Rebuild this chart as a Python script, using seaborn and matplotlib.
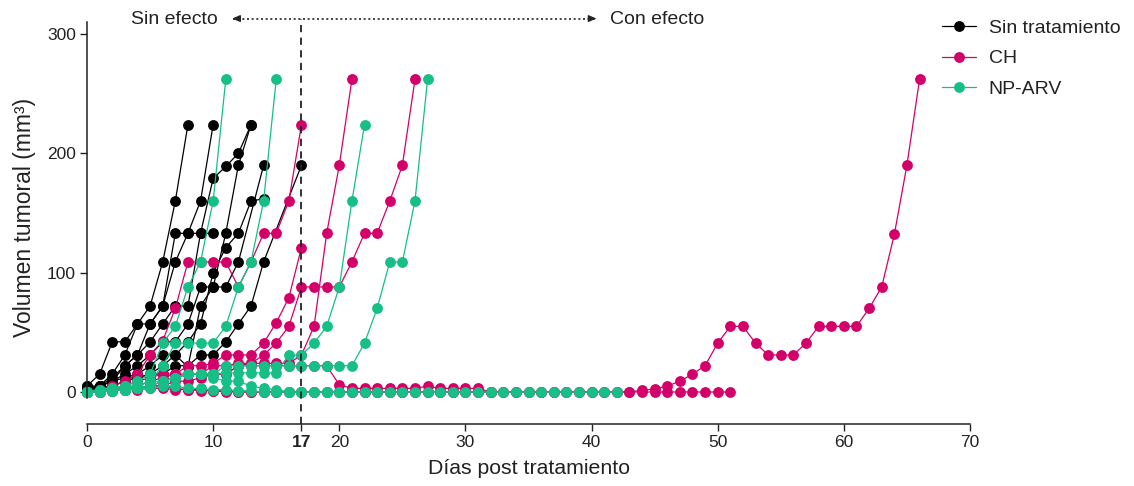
import matplotlib
matplotlib.use("Agg")
import matplotlib.pyplot as plt
from matplotlib.lines import Line2D
import seaborn as sns
import pandas as pd

# ---------------- data (values per mouse, one per day from day 0; None = not measured)
groups = ["Sin tratamiento", "CH", "NP-ARV"]
colors = ["#000000", "#D4006A", "#16BF85"]

# Sin tratamiento
b1 = [5, 15, 42, 42, 57, 72, 109, 160, 224]
b2 = [5, 5, 15, 31, 57, 57, 72, 133, 133, 160, 224]
b3 = [3, 5, 9, 22, 31, 42, 57, 72, 72, 133, 179, 189, 200, 224]
b4 = [3, 5, 9, 15, 22, 31, 42, 42, 57, 88, 88, 133, 190, 224]
b5 = [2, 5, 9, 12, 15, 22, 31, 31, 21, 72, 88, 88, 109, None, 190]
b6 = [2, 3, 5, 9, 12, 15, 22, 31, 42, 57, 100, 121, 133, 160, 162]
b7 = [2, 3, 5, 9, 12, 15, 15, 22, 22, 31, 31, 42, 57, 72, 109, None, None, 190]
b8 = [3, 5, 12, 22, 31, 57, 72, 109, 133, 133, 133]

# CH
p1 = [0, 2, 5, 9, 15, 31, 43, 70, 109, 109, 109, 109, 88, 109, 133, 133, 160, 224]
p2 = [0, 1, 3, 5, 9, 12, 15, 15, 22, 22, 24, 31, 31, 31, 41, 58, 79, 121]
p3 = [0, 0, 2, 3, 5, 9, 12, 15, 15, 15, 22, 22, 24, 24, 31, 41, 55, 88, 88, 88, 88,
      109, 133, 133, 160, 190, 262]
p4 = [0, 0, 1, 2, 3, 5, 9, 12, 15, 15, 15, 15, 22, 24, 24, 24, 24, 31, 55, 133, 190, 262]
p5 = [0, 0, 1, 2, 3, 5, 5, 9, 9, 12, 15, 15, 22, 22, 22, 22, 22, 22, 22, 22, 6,
      3, 3, 3, 3, 3, 3, 5, 3, 3, 3, 3, 0]
p6 = [0, 1, 2, 3, 3, 5, 5, 3, 2, 2, 1, 1, 0, 0, 0, 0, 0, 0, 0, 0, 0, 0, 0, 0, 0, 0,
      0, 0, 0, 0, 0, 0, 0, 0, 0, 0, 0, 0, 0, 0, 0, 0, 0, 0, 0, 0, 0, 0, 0, 0, 0, 0]
p7 = [0, 0, 1, 2, 2, 3, 3, 2, 2, 1, 1, 0, 0, 0, 0, 0, 0, 0, 0, 0, 0, 0, 0, 0, 0, 0,
      0, 0, 0, 0, 0, 0, 0, 0, 0, 0, 0, 0, 0, 0, 0, 0, 0, 0, 1.5, 2.5, 5, 9, 15, 22,
      41, 55, 55, 41, 31, 31, 31, 41, 55, 55, 55, 55, 70, 88, 132, 190, 262]

# NP-ARV
g1 = [0, 2, 3, 5, 9, 15, 41, 55, 88, 109, 160, 262]
g2 = [0, 1, 2, 3, 5, 9, 22, 41, 41, 41, 41, 55, 88, 109, 160, 262]
g3 = [0, 0, 1, 2, 3, 5, 9, 12, 15, 15, 15, 16, 16, 16, 16, 16, 31, 31, 41, 55, 88, 160, 224]
g4 = [0, 0, 1, 2, 3, 5, 9, 12, 15, 15, 15, 22, 22, 22, 22, 22, 22, 22, 22, 22, 22, 22,
      41, 70, 109, 109, 160, 262]
g5 = [0, 1, 2, 2, 3, 3, 5, 5, 3, 3, 2, 2, 1, 1, 0, 0, 0, 0, 0, 0, 0, 0, 0, 0, 0, 0,
      0, 0, 0, 0, 0, 0, 0, 0, 0, 0, 0, 0, 0, 0, 0, 0, 0]
g6 = [0, 2, 3, 5, 5, 9, 9, 12, 15, 15, 12, 9, 9, 5, 3, 2, 0, 0, 0, 0, 0]

black_mice = [b1, b2, b3, b4, b5, b6, b7, b8]
pink_mice = [p1, p2, p3, p4, p5, p6, p7]
green_mice = [g1, g2, g3, g4, g5, g6]

x_ticks = [0, 10, 17, 20, 30, 40, 50, 60, 70]
y_ticks = [0, 100, 200, 300]

# ---------------- long-form table
rows = []
for grp, mice in zip(groups, [black_mice, pink_mice, green_mice]):
    for k, vals in enumerate(mice):
        for day, v in enumerate(vals):
            if v is not None:
                rows.append({"day": day, "volume": v, "group": grp, "mouse": f"{grp}-{k}"})
df = pd.DataFrame(rows)

# ---------------- figure
sns.set_style("white")
plt.rcParams["font.family"] = ["Liberation Sans", "DejaVu Sans"]

W, H = 1134, 486
fig = plt.figure(figsize=(W / 100, H / 100), dpi=100)
ax = fig.add_axes([74.4 / W, 1 - 424.2 / H, (982.6 - 74.4) / W, (424.2 - 10.2) / H])

MS = 7.8
palette = dict(zip(groups, colors))
sns.lineplot(data=df, x="day", y="volume", hue="group", units="mouse", estimator=None,
             hue_order=groups, palette=palette, marker="o", markersize=MS,
             markeredgewidth=0, linewidth=0.9, legend=False, ax=ax)
for ln in ax.lines:
    ln.set_clip_on(False)

ax.set_xlim(-1, 71)
ax.set_ylim(-27, 320)

# axes styling
for s in ["top", "right"]:
    ax.spines[s].set_visible(False)
ax.spines["left"].set_position(("data", 0))
ax.spines["left"].set_bounds(-5, 310)
ax.spines["bottom"].set_bounds(0, 70)
for s in ["left", "bottom"]:
    ax.spines[s].set_linewidth(1.1)
    ax.spines[s].set_color("#222222")

ax.set_xticks(x_ticks)
ax.set_xticklabels([str(t) for t in x_ticks])
for lab in ax.get_xticklabels():
    if lab.get_text() == "17":
        lab.set_fontweight("bold")
ax.set_yticks(y_ticks)
ax.tick_params(axis="both", direction="out", length=5, width=1.0, color="#222222",
               labelsize=12.5, labelcolor="#222222", pad=3)
ax.tick_params(axis="x", bottom=True)
ax.tick_params(axis="y", left=True)

ax.set_xlabel("Días post tratamiento", fontsize=15.3, color="#222222", labelpad=6)
ax.set_ylabel("Volumen tumoral (mm³)", fontsize=16.5, color="#222222", labelpad=8)

# vertical dashed line at day 17
ax.plot([17, 17], [-27, 313], color="#222222", lw=1.3, ls=(0, (4, 3)), zorder=10, clip_on=False)

# dotted double arrow
ax.plot([11.6, 40.3], [313, 313], color="#222222", lw=1.2, ls=(0, (1.2, 1.6)), clip_on=False, zorder=10)
ax.annotate("", xy=(11.3, 313), xytext=(12.0, 313),
            arrowprops=dict(arrowstyle="-|>,head_length=0.45,head_width=0.2", color="#222222", lw=1.0),
            annotation_clip=False)
ax.annotate("", xy=(40.6, 313), xytext=(39.9, 313),
            arrowprops=dict(arrowstyle="-|>,head_length=0.45,head_width=0.2", color="#222222", lw=1.0),
            annotation_clip=False)
ax.text(10.4, 312, "Sin efecto", ha="right", va="center", fontsize=14, color="#222222")
ax.text(41.5, 312, "Con efecto", ha="left", va="center", fontsize=14, color="#222222")

# legend
handles = [Line2D([0], [0], color=c, marker="o", markersize=MS, markeredgewidth=0, lw=0.9)
           for c in colors]
fig.legend(handles, groups, loc="upper left", bbox_to_anchor=(942 / W, 1 - 19 / H),
           frameon=False, fontsize=14, handlelength=1.75, handletextpad=0.65,
           labelspacing=0.68, borderpad=0, borderaxespad=0, labelcolor="#222222")

fig.savefig("out.png", dpi=100)
